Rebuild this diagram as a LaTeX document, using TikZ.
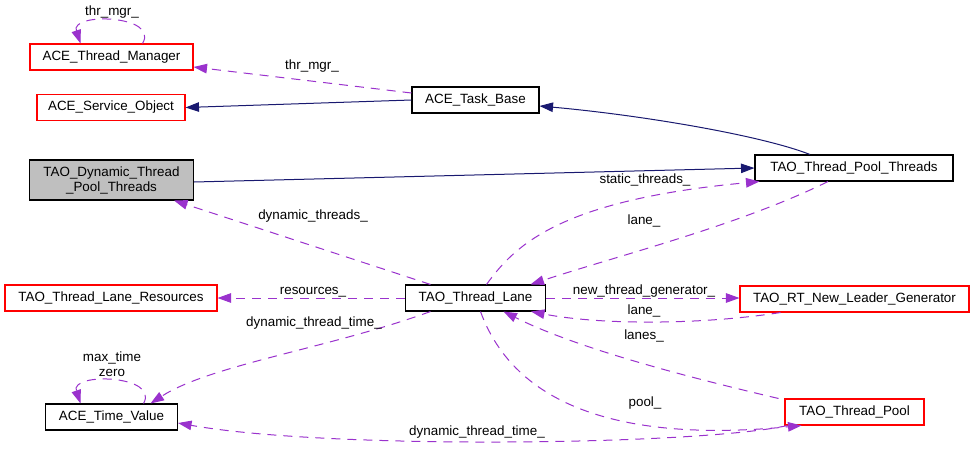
\documentclass[tikz,border=0pt]{standalone}
\usepackage{fontspec}
\setmainfont{Liberation Sans}
\usetikzlibrary{arrows.meta}
\definecolor{navyedge}{HTML}{191970}
\definecolor{purpleedge}{HTML}{9A32CD}
\definecolor{grayfill}{HTML}{BFBFBF}
\definecolor{boxred}{HTML}{FF0000}
\begin{document}
\begin{tikzpicture}[x=1pt,y=-1pt,
  font=\fontsize{13.4}{15}\selectfont,
  box/.style={draw, line width=1.05pt, inner sep=0pt, minimum height=26pt, align=center},
  redbox/.style={box, draw=boxred},
  blackbox/.style={box, draw=black},
  lbl/.style={inner sep=0pt, text height=9.6pt, text depth=2.8pt},
  inh/.style={draw=navyedge, line width=1pt, -{Triangle[length=13.5pt,width=9.5pt]}},
  use/.style={draw=purpleedge, line width=1pt, dash pattern=on 9pt off 7pt, -{Triangle[length=13.5pt,width=9.5pt]}},
]
\fill[white] (0,0) rectangle (975,450);
\useasboundingbox (0,0) rectangle (975,450);

% nodes
\node[redbox, minimum width=163pt] (tm) at (111.5,57) {ACE\_Thread\_Manager};
\node[redbox, minimum width=148pt] (so) at (111,107.5) {ACE\_Service\_Object};
\node[blackbox, fill=grayfill, minimum width=164pt, minimum height=40pt] (dtp) at (111.5,180) {TAO\_Dynamic\_Thread\\\_Pool\_Threads};
\node[blackbox, minimum width=127pt] (tb) at (475.5,100) {ACE\_Task\_Base};
\node[blackbox, minimum width=198pt] (tpt) at (854,168) {TAO\_Thread\_Pool\_Threads};
\node[redbox, minimum width=212pt] (tlr) at (111,298) {TAO\_Thread\_Lane\_Resources};
\node[blackbox, minimum width=140pt] (tl) at (475.5,298) {TAO\_Thread\_Lane};
\node[redbox, minimum width=229pt] (nlg) at (854.5,299) {TAO\_RT\_New\_Leader\_Generator};
\node[blackbox, minimum width=132pt] (tv) at (111.5,417) {ACE\_Time\_Value};
\node[redbox, minimum width=139pt] (tp) at (854.5,412) {TAO\_Thread\_Pool};

% edges
\draw[use] ([xshift=31pt]tm.north) .. controls (160,15) and (70,12) .. ([xshift=-31pt]tm.north);
\draw[use] ([yshift=7pt]tb.west) -- ([yshift=-10pt]tm.east);
\draw[inh] (tb.west) -- (so.east);
\draw[inh] ([xshift=-44pt]tpt.north) .. controls (760,135) and (640,115) .. ([yshift=-6pt]tb.east);
\draw[inh] ([yshift=-2pt]dtp.east) -- (tpt.west);
\draw[use] ([xshift=11pt]tl.north) .. controls (515,245) and (560,200) .. ([xshift=5pt]tpt.south west);
\draw[use] ([xshift=-26pt]tpt.south) .. controls (740,225) and (620,255) .. ([xshift=55pt]tl.north);
\draw[use] ([xshift=-45pt]tl.north) -- ([xshift=-20pt]dtp.south east);
\draw[use] (tl.west) -- (tlr.east);
\draw[use] (tl.east) -- ([yshift=1pt]nlg.west);
\draw[use] ([xshift=-74pt]nlg.south) .. controls (700,325) and (600,325) .. ([xshift=-15pt]tl.south east);
\draw[use] ([xshift=-76pt]tp.north) .. controls (700,380) and (580,350) .. ([xshift=28pt]tl.south);
\draw[use] ([xshift=5pt]tl.south) .. controls (520,420) and (650,440) .. ([xshift=-53pt]tp.south);
\draw[use] ([xshift=-45pt]tl.south) .. controls (330,348) and (210,365) .. ([xshift=39pt]tv.north);
\draw[use] ([xshift=32pt]tv.north) .. controls (160,375) and (70,372) .. ([xshift=-31pt]tv.north);
\draw[use] ([xshift=-67pt]tp.south) .. controls (700,445) and (330,450) .. ([yshift=-6pt]tv.east);

% labels
\node[lbl] (l1) at (112,12) {thr\_mgr\_};
\node[lbl] (l2) at (312,66) {thr\_mgr\_};
\node[lbl] (l3) at (645,180) {static\_threads\_};
\node[lbl] (l4) at (644,221) {lane\_};
\node[lbl] (l5) at (313,216) {dynamic\_threads\_};
\node[lbl] (l6) at (313,291) {resources\_};
\node[lbl] (l7) at (644,291) {new\_thread\_generator\_};
\node[lbl] (l8) at (644,311) {lane\_};
\node[lbl] (l9) at (314,323) {dynamic\_thread\_time\_};
\node[lbl] (l10) at (644,336) {lanes\_};
\node[lbl] (l11) at (645,403) {pool\_};
\node[lbl] (l12) at (477,432) {dynamic\_thread\_time\_};
\node[inner sep=0pt, align=center] (l13) at (112,364.5) {max\_time\\zero};
\end{tikzpicture}
\end{document}
